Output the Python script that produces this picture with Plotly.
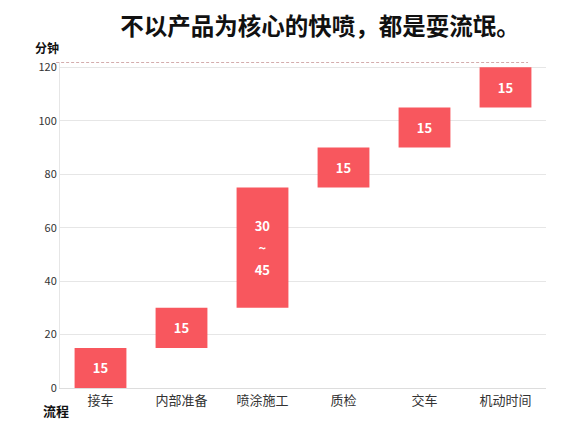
import plotly.graph_objects as go

steps = ["接车", "内部准备", "喷涂施工", "质检", "交车", "机动时间"]
starts = [0, 15, 30, 75, 90, 105]
durations = [15, 15, 45, 15, 15, 15]
bar_texts = ["15", "15", "30<br>~<br>45", "15", "15", "15"]
y_ticks = [0, 20, 40, 60, 80, 100, 120]
limit_line = 122

FONT = "Noto Sans CJK SC"
RED = "#F8575E"

shown_texts = ["<br>".join(f"<span style='font-size:13px'>{p}</span>" for p in t.split("<br>"))
               for t in bar_texts]

fig = go.Figure()
fig.add_trace(go.Bar(
    x=steps, y=durations, base=starts,
    marker=dict(color=RED, line=dict(width=0)),
    text=shown_texts, textposition="inside", insidetextanchor="middle",
    textfont=dict(family=FONT, size=17, color="white", weight="bold"),
    hoverinfo="skip",
))

fig.add_shape(type="line", xref="paper", yref="y", x0=-0.008, x1=0.963,
              y0=limit_line, y1=limit_line,
              line=dict(color="#A85A5A", width=1, dash="3px,2px"))

fig.update_layout(
    width=583, height=436,
    margin=dict(l=60, r=37, t=62, b=48),
    paper_bgcolor="white", plot_bgcolor="white",
    bargap=0.36, showlegend=False,
    font=dict(family=FONT, color="#333"),
    title=dict(text="<b>不以产品为核心的快喷，都是耍流氓。</b>",
               x=0.549, xanchor="center", y=0.938, yanchor="middle",
               font=dict(family=FONT, size=23.5, color="#111")),
    xaxis=dict(showgrid=False, showline=True, linecolor="#DDDDDD", linewidth=1,
               ticks="", tickfont=dict(family=FONT, size=13, color="#333")),
    yaxis=dict(range=[0, limit_line], tickvals=y_ticks, showgrid=True,
               gridcolor="#E6E6E6", gridwidth=1, zeroline=False,
               showline=True, linecolor="#E6E6E6", ticks="",
               tickfont=dict(family=FONT, size=11, color="#333")),
    annotations=[
        dict(text="<b>分钟</b>", xref="paper", yref="paper", x=-0.056, y=1.043,
             xanchor="left", yanchor="middle", showarrow=False,
             font=dict(family=FONT, size=12, color="#111")),
        dict(text="<b>流程</b>", xref="paper", yref="paper", x=0.023, y=-0.07,
             xanchor="right", yanchor="middle", showarrow=False,
             font=dict(family=FONT, size=13, color="#111")),
    ],
)

fig.write_html("out.html", config={"displayModeBar": False},
               post_script="document.body.style.margin='0';")
